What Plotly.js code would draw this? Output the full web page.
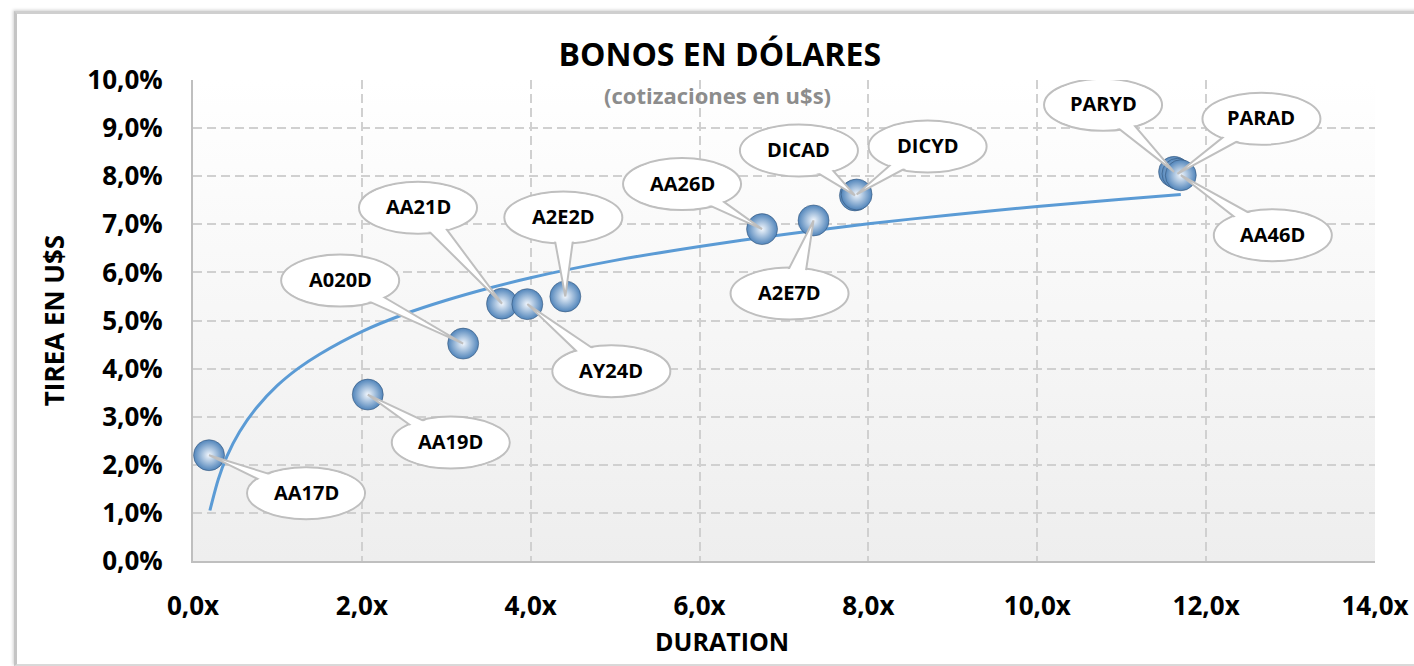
<!DOCTYPE html>
<html>
<head>
<meta charset="utf-8">
<script src="https://cdn.plot.ly/plotly-3.0.1.min.js"></script>
<style>
  html, body { margin:0; padding:0; background:#ffffff; }
  #chart { position:absolute; left:0; top:0; width:1414px; height:666px; }
  #frame { position:absolute; left:14px; top:11px; width:1420px; height:650px;
           border-left:3px solid #c4c4c4; border-top:3px solid #cfcfcf; border-bottom:2px solid #d9d9d9;
           box-shadow:-1px -1px 3px rgba(0,0,0,0.18); pointer-events:none; }
</style>
</head>
<body>
<div id="chart"></div>
<div id="frame"></div>
<script>
// ---- data ----
const bonds    = ['AA17D','AA19D','A020D','AA21D','AY24D','A2E2D','AA26D','A2E7D','DICAD','DICYD','PARYD','PARAD','AA46D'];
const duration = [0.19, 2.07, 3.20, 3.66, 3.96, 4.41, 6.74, 7.35, 7.84, 7.86, 11.62, 11.66, 11.70];
const tirea    = [2.20, 3.46, 4.52, 5.35, 5.34, 5.50, 6.90, 7.08, 7.60, 7.62, 8.09, 8.05, 8.02];

// logarithmic trend line
const trendX = [0.2, 0.3, 0.4, 0.55, 0.75, 1.0, 1.25, 1.5, 2.0, 2.5, 3.0, 3.5, 4.0, 5.0, 6.0, 7.0, 8.0, 9.0, 10.0, 11.0, 11.7];
const trendY = [1.05, 1.70, 2.17, 2.68, 3.18, 3.65, 4.01, 4.30, 4.77, 5.13, 5.42, 5.67, 5.89, 6.25, 6.54, 6.79, 7.01, 7.20, 7.37, 7.52, 7.62];

const xTickVals = [0, 2, 4, 6, 8, 10, 12, 14];
const xTickText = ['0,0x', '2,0x', '4,0x', '6,0x', '8,0x', '10,0x', '12,0x', '14,0x'];
const yTickVals = [0, 1, 2, 3, 4, 5, 6, 7, 8, 9, 10];
const yTickText = ['0,0%', '1,0%', '2,0%', '3,0%', '4,0%', '5,0%', '6,0%', '7,0%', '8,0%', '9,0%', '10,0%'];

// ---- callout placement (pixel offsets of the ellipse centre from its point; screen y down) ----
const calloutDX = [97, 83, -123, -84, 84, -2, -80, -24, -56, 71, -71, 84, 92];
const calloutDY = [38, 48, -63, -96, 67, -79, -45, 73, -45, -48, -67, -55, 60];
const ellA = 59, ellB = 26;

const FONT = 'Open Sans, Arial, sans-serif';
const GRAYLINE = '#bfbfbf';

const shapes = [];
const annotations = [];

bonds.forEach((name, i) => {
  const dx = calloutDX[i], dy = calloutDY[i];
  const base = { xref:'x', yref:'y', xsizemode:'pixel', ysizemode:'pixel',
                 xanchor: duration[i], yanchor: tirea[i], layer:'above' };
  shapes.push(Object.assign({}, base, {
    type:'circle', x0: dx - ellA, x1: dx + ellA, y0: -dy - ellB, y1: -dy + ellB,
    fillcolor:'#ffffff', line:{color:GRAYLINE, width:2}
  }));
  const th = Math.atan2(-dy / ellB, -dx / ellA);
  const d = 0.22, k = 0.75;
  const b1x = dx + k * ellA * Math.cos(th + d), b1y = dy + k * ellB * Math.sin(th + d);
  const b2x = dx + k * ellA * Math.cos(th - d), b2y = dy + k * ellB * Math.sin(th - d);
  shapes.push(Object.assign({}, base, {
    type:'path',
    path: `M 0,0 L ${b1x.toFixed(2)},${(-b1y).toFixed(2)} L ${b2x.toFixed(2)},${(-b2y).toFixed(2)} Z`,
    fillcolor:'#ffffff', line:{color:GRAYLINE, width:2}
  }));
  shapes.push(Object.assign({}, base, {
    type:'circle', x0: dx - ellA + 1.5, x1: dx + ellA - 1.5, y0: -dy - ellB + 1.5, y1: -dy + ellB - 1.5,
    fillcolor:'#ffffff', line:{width:0}
  }));
  annotations.push({
    xref:'x', yref:'y', x: duration[i], y: tirea[i], xshift: dx, yshift: -dy + 1,
    text: name, showarrow:false,
    font:{family:FONT, size:20, color:'#000000', weight:700}
  });
});

// subtitle
annotations.push({
  xref:'paper', yref:'paper', x:0.444, y:0.969, xanchor:'center', yanchor:'middle',
  text:'(cotizaciones en u$s)', showarrow:false,
  font:{family:FONT, size:22, color:'#8c8c8c', weight:700}
});
// x axis title
annotations.push({
  xref:'paper', yref:'paper', x:0.4475, y:-0.166, xanchor:'center', yanchor:'middle',
  text:'DURATION', showarrow:false,
  font:{family:FONT, size:25, color:'#000000', weight:700}
});

const gradSvg = "<svg xmlns='http://www.w3.org/2000/svg' width='10' height='100' preserveAspectRatio='none'>" +
  "<defs><linearGradient id='g' x1='0' y1='0' x2='0' y2='1'>" +
  "<stop offset='0' stop-color='#ffffff'/><stop offset='1' stop-color='#eeeeee'/></linearGradient></defs>" +
  "<rect width='10' height='100' fill='url(#g)'/></svg>";

const traces = [
  {
    x: trendX, y: trendY, type:'scatter', mode:'lines',
    line:{color:'#5b9bd5', width:3, shape:'spline', smoothing:0.8},
    hoverinfo:'skip', showlegend:false
  },
  {
    x: duration, y: tirea, text: bonds, type:'scatter', mode:'markers',
    marker:{ size:31, color:'#5084ba',
             gradient:{type:'radial', color:'#f2f7fd'},
             line:{color:'rgba(45,75,110,0.5)', width:1} },
    showlegend:false
  }
];

const layout = {
  width:1414, height:666,
  margin:{l:193, r:39, t:80, b:105},
  paper_bgcolor:'#ffffff',
  plot_bgcolor:'rgba(0,0,0,0)',
  separators:',.',
  showlegend:false,
  title:{
    text:'BONOS EN DÓLARES', xref:'container', yref:'container',
    x:0.509, xanchor:'center', y:1 - 55/666, yanchor:'middle',
    font:{family:FONT, size:32, color:'#000000', weight:700}
  },
  xaxis:{
    range:[0, 14], tickmode:'array', tickvals:xTickVals, ticktext:xTickText,
    showgrid:true, gridcolor:'#d0d0d0', gridwidth:2, griddash:'9px,5px',
    zeroline:false, showline:true, linecolor:GRAYLINE, linewidth:2,
    ticks:'', ticklabelstandoff:21,
    tickfont:{family:FONT, size:26, color:'#000000', weight:700},
    fixedrange:true
  },
  yaxis:{
    range:[0, 10], tickmode:'array', tickvals:yTickVals, ticktext:yTickText,
    showgrid:true, gridcolor:'#d0d0d0', gridwidth:2, griddash:'9px,5px',
    zeroline:false, showline:true, linecolor:GRAYLINE, linewidth:2,
    ticks:'', ticklabelstandoff:23,
    tickfont:{family:FONT, size:26, color:'#000000', weight:700},
    title:{text:'TIREA EN U$S', standoff:15,
           font:{family:FONT, size:26, color:'#000000', weight:700}},
    fixedrange:true
  },
  images:[{
    source:'data:image/svg+xml;charset=utf-8,' + encodeURIComponent(gradSvg),
    xref:'paper', yref:'paper', x:0, y:1, sizex:1, sizey:1,
    xanchor:'left', yanchor:'top', sizing:'stretch', layer:'below'
  }],
  shapes: shapes,
  annotations: annotations
};

Plotly.newPlot('chart', traces, layout, {displayModeBar:false, staticPlot:true});
</script>
</body>
</html>
